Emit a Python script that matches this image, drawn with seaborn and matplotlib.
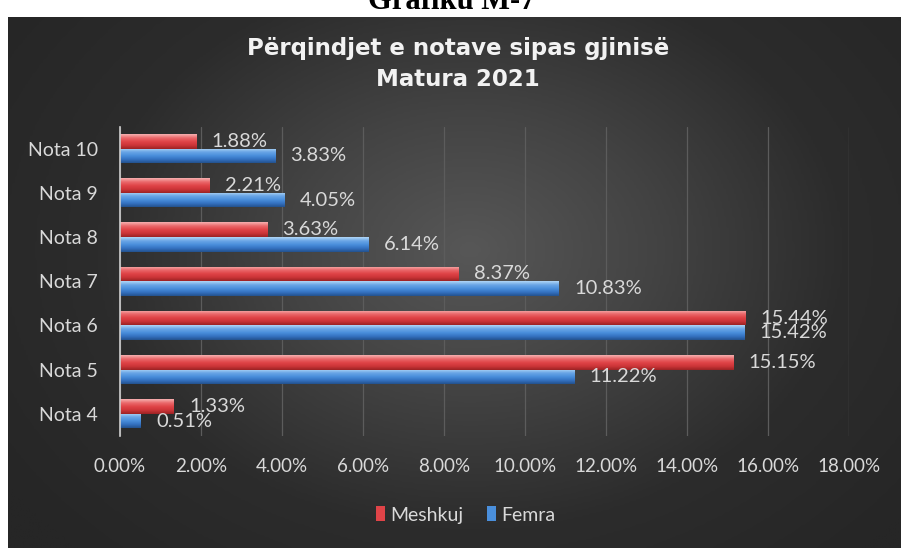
import numpy as np
import pandas as pd
import matplotlib
matplotlib.use("Agg")
import matplotlib.pyplot as plt
from matplotlib.colors import LinearSegmentedColormap
from matplotlib.patches import Patch
import seaborn as sns

# ---- data ----
categories = ["Nota 10", "Nota 9", "Nota 8", "Nota 7", "Nota 6", "Nota 5", "Nota 4"]
meshkuj = [1.88, 2.21, 3.63, 8.37, 15.44, 15.15, 1.33]
femra = [3.83, 4.05, 6.14, 10.83, 15.42, 11.22, 0.51]
series_names = ["Meshkuj", "Femra"]
x_ticks = [0, 2, 4, 6, 8, 10, 12, 14, 16, 18]
title_text = "Përqindjet e notave sipas gjinisë\nMatura 2021"
header_text = "Grafiku M-7"

df = pd.DataFrame({
    "Nota": categories * 2,
    "Vlera": meshkuj + femra,
    "Gjinia": [series_names[0]] * len(categories) + [series_names[1]] * len(categories),
})

sns.set_theme(style="white")
plt.rcParams["font.family"] = ["Lato", "DejaVu Sans"]

W, H = 904, 548
fig = plt.figure(figsize=(W / 100, H / 100), dpi=100)
fig.patch.set_facecolor("white")

# ---- background panel with radial gradient ----
bg = fig.add_axes([0, 0, 1, 1], zorder=-5)
bg.set_xlim(0, W)
bg.set_ylim(H, 0)
bg.axis("off")
px0, px1, py0, py1 = 8, 901, 17, 548
gx = np.linspace(px0, px1, 400)
gy = np.linspace(py0, py1, 300)
XX, YY = np.meshgrid(gx, gy)
cx, cy = 470, 250
r = np.sqrt(((XX - cx) / 560) ** 2 + ((YY - cy) / 420) ** 2)
r = np.clip(r, 0, 1)
bgcmap = LinearSegmentedColormap.from_list("bg", ["#575757", "#434343", "#2c2c2c", "#262626"])
bg.imshow(r, cmap=bgcmap, vmin=0, vmax=1, extent=(px0, px1, py1, py0),
          origin="upper", aspect="auto", interpolation="bilinear", zorder=2)
bg.text(452, 9, header_text, ha="center", va="baseline", fontsize=22,
        fontweight="bold", family=["Liberation Serif", "DejaVu Serif"], color="black", zorder=1)

# ---- main axes ----
ax = fig.add_axes([120 / W, 1 - 436 / H, (849 - 120) / W, (436 - 126.5) / H])
ax.set_facecolor("none")

palette = {"Meshkuj": "#e04448", "Femra": "#4a8fdc"}
sns.barplot(data=df, y="Nota", x="Vlera", hue="Gjinia", hue_order=series_names,
            order=categories, palette=palette, orient="h", width=0.66, gap=0.0,
            ax=ax, legend=False, saturation=1, zorder=3, linewidth=0, edgecolor="none")

ax.set_xlim(0, 18)
ax.set_xticks(x_ticks)
ax.set_xticklabels([f"{v:.2f}%" for v in x_ticks])
ax.set_xlabel("")
ax.set_ylabel("")
ax.grid(axis="x", color="#5c5c5c", lw=0.9, zorder=0)
ax.grid(axis="y", visible=False)
for s in ["top", "right", "bottom"]:
    ax.spines[s].set_visible(False)
ax.spines["left"].set_color("#cfcfcf")
ax.spines["left"].set_linewidth(1.2)
ax.spines["left"].set_zorder(4)
ax.tick_params(axis="both", length=0, colors="#d9d9d9")
ax.tick_params(axis="y", labelsize=14, pad=16)
ax.tick_params(axis="x", labelsize=13.5, pad=16)

# ---- 3D-like gradient on bars ----
grad_cols = {
    "Meshkuj": ["#f6b0b0", "#ea6a6c", "#e04448", "#cc3538", "#9c2224"],
    "Femra": ["#b0d6f6", "#6ba6e6", "#4a8fdc", "#3572c2", "#23528e"],
}
xlim, ylim = ax.get_xlim(), ax.get_ylim()
for cont, name in zip(ax.containers, series_names):
    cmap = LinearSegmentedColormap.from_list(name, grad_cols[name])
    grad = np.linspace(0, 1, 64).reshape(-1, 1)
    for p in cont.patches:
        x0, y0 = p.get_x(), p.get_y()
        w, h = p.get_width(), p.get_height()
        im = ax.imshow(grad, cmap=cmap, extent=(x0, x0 + w, y0 + h, y0), origin="upper",
                       aspect="auto", zorder=3.5, interpolation="bilinear")
        im.set_clip_path(p)
    ax.bar_label(cont, labels=[f"{v:.2f}%" for v in cont.datavalues], padding=11,
                 color="#d9d9d9", fontsize=14.5, zorder=5)
ax.set_xlim(xlim)
ax.set_ylim(ylim)

# ---- title ----
fig.text(458 / W, 1 - 64 / H, title_text, ha="center", va="center", fontsize=16.5,
         fontweight="bold", color="#f2f2f2", family=["DejaVu Sans"], linespacing=1.5)

# ---- legend ----
handles = [Patch(facecolor=palette[n], edgecolor="none") for n in series_names]
leg = fig.legend(handles, series_names, loc="center", bbox_to_anchor=(466 / W, 1 - 515 / H),
                 ncol=2, frameon=False, fontsize=14, handlelength=0.45, handleheight=0.8,
                 handletextpad=0.3, columnspacing=1.2)
for t in leg.get_texts():
    t.set_color("#d9d9d9")

fig.savefig("out.png", dpi=100, facecolor=fig.get_facecolor())
